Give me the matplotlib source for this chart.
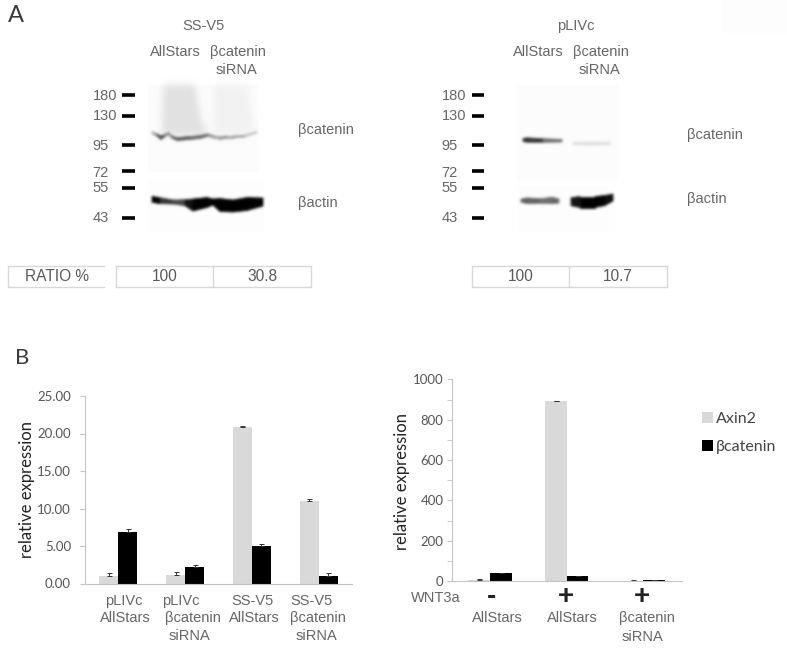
import numpy as np
import matplotlib
matplotlib.use('Agg')
import matplotlib.pyplot as plt
from matplotlib.collections import PolyCollection

W, H = 787, 651
arial = 'Liberation Sans'
calibri = 'Lato'
txt_gray = '#666666'
bar_gray = '#d9d9d9'
axis_gray = '#c4c4c4'
box_gray = '#d8d8d8'

# left chart
left_axin2 = [0.97, 1.07, 20.9, 10.95]
left_axin2_err = [0.4, 0.4, 0.1, 0.35]
left_bcat = [6.9, 2.25, 5.05, 0.97]
left_bcat_err = [0.35, 0.2, 0.2, 0.45]
left_ticks = [0, 5, 10, 15, 20, 25]
left_labels = [['pLIVc', 'AllStars'], ['pLIVc', 'βcatenin', 'siRNA'],
               ['SS-V5', 'AllStars'], ['SS-V5', 'βcatenin', 'siRNA']]
left_label_x = [[124, 125], [181, 192.5, 189], [252.5, 254.3], [311.7, 318, 316.3]]

# right chart
right_axin2 = [8, 891, 3]
right_axin2_err = [3, 1, 1]
right_bcat = [40, 26, 5]
right_bcat_err = [1, 1, 1]
right_ticks = [0, 200, 400, 600, 800, 1000]
right_wnt = ['-', '+', '+']
right_wnt_x = [491.7, 566, 642]
right_labels = [['AllStars'], ['AllStars'], ['βcatenin', 'siRNA']]
right_label_x = [[497.3], [572], [646.7, 642.3]]

# marker ladder
ladder = ['180', '130', '95', '72', '55', '43']
ladder_y = [94.5, 115.5, 144.5, 171, 188, 217.5]
ladder_text_y = [95.7, 116, 145.5, 173, 188, 218]

# blot bands: x, centre y, half thickness, darkness (image pixels)
blot1_cat = ([152, 157, 161, 165, 168, 172, 177, 190, 200, 208, 214, 220, 227, 233, 245, 257],
             [132.7, 135, 137.7, 135.5, 133.5, 137, 139, 138, 137, 135, 137, 138, 137, 137, 136, 132],
             [0.8, 1.2, 1.8, 1.2, 1, 1.2, 1.5, 1.5, 1.5, 1.2, 1.2, 1.5, 1.2, 1.2, 1, 0.7],
             [.35, .5, .85, .5, .45, .5, .7, .6, .6, .6, .25, .45, .35, .4, .3, .2])
blot1_act = ([152, 160, 173, 185, 193, 207, 213, 220, 233, 247, 263],
             [199.3, 200.7, 202, 202.7, 205, 202.5, 202, 205, 206, 204, 202],
             [3, 3, 2, 3, 6, 5, 3, 6.5, 6, 6.5, 4],
             [1, 1, .6, .85, 1, 1, 1, 1, 1, 1, 1])
blot2_cat_a = ([523, 527, 543, 562],
               [140, 140, 140.5, 140.7],
               [1.5, 2.2, 1.8, 1.3],
               [.7, .95, .65, .5])
blot2_cat_b = ([573, 590, 610],
               [143.5, 143.5, 143.5],
               [1.2, 1.6, 1.2],
               [.09, .15, .09])
blot2_act_a = ([521, 527, 540, 552, 559],
               [200.7, 200.7, 201, 200.5, 201],
               [1.5, 2.8, 2.2, 3.2, 2],
               [.45, .8, .45, .7, .5])
blot2_act_b = ([571, 580, 595, 605, 613],
               [201.7, 202, 202, 200.5, 197.5],
               [4, 5.5, 5.5, 5, 3.5],
               [.85, 1, 1, 1, .9])

# smears over the left blot, outline in image pixels
smear_a = ([163, 195, 200, 208, 162], [85, 85, 115, 135, 135])
smear_b = ([214, 248, 251, 256, 214], [85, 85, 110, 133, 135])

fig = plt.figure(figsize=(W / 100, H / 100), dpi=100)
bg = fig.add_axes([0, 0, 1, 1])
bg.set_xlim(0, W)
bg.set_ylim(H, 0)
bg.axis('off')


def px_axes(x0, y0, x1, y1):
    return fig.add_axes([x0 / W, 1 - y1 / H, (x1 - x0) / W, (y1 - y0) / H])


def label(x, y, s, size=10.5, color=txt_gray, family=arial, **kw):
    kw.setdefault('ha', 'center')
    kw.setdefault('va', 'center')
    bg.text(x, y, s, fontsize=size, color=color, family=family, **kw)


def make_blur(sigma):
    pad = int(sigma * 4) + 1
    kernel = np.exp(-0.5 * (np.arange(-pad, pad + 1) / sigma) ** 2)
    kernel = kernel / kernel.sum()

    def smooth(a):
        a = np.apply_along_axis(np.convolve, 0, a, kernel, mode='same')
        return np.apply_along_axis(np.convolve, 1, a, kernel, mode='same')

    def blur(im, dpi):
        im = np.pad(im, [(pad, pad), (pad, pad), (0, 0)], 'constant')
        alpha = im[:, :, 3]
        out = np.zeros_like(im)
        blurred = smooth(alpha)
        for c in range(3):
            out[:, :, c] = smooth(im[:, :, c] * alpha) / np.maximum(blurred, 1e-4)
        out[:, :, 3] = blurred
        return np.clip(out, 0, 1), -pad, -pad
    return blur


def draw_bands(bands, sigma=0.9):
    verts, colors = [], []
    for xs, ys, half, dark in bands:
        for i in range(len(xs) - 1):
            verts.append([(xs[i], ys[i] - half[i]), (xs[i + 1], ys[i + 1] - half[i + 1]),
                          (xs[i + 1], ys[i + 1] + half[i + 1]), (xs[i], ys[i] + half[i])])
            colors.append(str(round(1 - (dark[i] + dark[i + 1]) / 2, 3)))
    pc = PolyCollection(verts, facecolors=colors, edgecolors=colors, linewidths=0.5)
    pc.set_agg_filter(make_blur(sigma))
    bg.add_collection(pc)


def draw_smear(outline, color):
    pc = PolyCollection([list(zip(*outline))], facecolors=color, edgecolors='none')
    pc.set_agg_filter(make_blur(2.5))
    bg.add_collection(pc)


def panel(x0, x1, y0, y1, color):
    bg.fill([x0, x1, x1, x0], [y0, y0, y1, y1], color=color, lw=0)


def ratio_box(x0, x1, mid=None, open_right=False):
    y0, y1 = 265.5, 286.5
    bg.plot([x0, x1], [y0, y0], color=box_gray, lw=1)
    bg.plot([x0, x1], [y1, y1], color=box_gray, lw=1)
    bg.plot([x0, x0], [y0, y1], color=box_gray, lw=1)
    if not open_right:
        bg.plot([x1, x1], [y0, y1], color=box_gray, lw=1)
    if mid:
        bg.plot([mid, mid], [y0, y1], color=box_gray, lw=1)


def bar_panel(ax, axin2, axin2_err, bcat, bcat_err, width, top, pad, size):
    x = np.arange(len(axin2))
    ax.bar(x - width / 2, axin2, width, color=bar_gray, label='Axin2')
    ax.bar(x + width / 2, bcat, width, color='black', label='βcatenin')
    ax.errorbar(x - width / 2, axin2, yerr=[[0] * len(x), axin2_err], fmt='none',
                ecolor='#333333', elinewidth=0.7, capsize=1.8, capthick=0.7)
    ax.errorbar(x + width / 2, bcat, yerr=[[0] * len(x), bcat_err], fmt='none',
                ecolor='#333333', elinewidth=0.7, capsize=1.8, capthick=0.7)
    ax.set_xlim(-0.5, len(x) - 0.5)
    ax.set_ylim(0, top)
    ax.set_xticks([])
    for s in ('top', 'right'):
        ax.spines[s].set_visible(False)
    for s in ('left', 'bottom'):
        ax.spines[s].set_color(axis_gray)
    ax.patch.set_alpha(0)
    ax.tick_params(axis='y', which='both', color=axis_gray, direction='out', length=3.6,
                   pad=pad, labelsize=size, labelcolor='#555555')


label(16, 15.5, 'A', size=17, color='#3a3a3a', family=calibri)
label(22, 357.5, 'B', size=16, color='#3a3a3a', family=calibri)

# faint blot backgrounds
panel(148, 258, 85, 172, '#fcfcfc')
panel(148, 265, 180, 232, '#fdfdfd')
panel(517, 618, 85, 182, '#fcfcfc')
panel(517, 613, 186, 232, '#fdfdfd')
panel(722, 787, 0, 33, '#fdfdfd')

# panel A, left blot
label(203, 26, 'SS-V5')
label(175, 52, 'AllStars')
label(238, 52, 'βcatenin')
label(236, 70.5, 'siRNA')
draw_smear(smear_a, '#e2e2e2')
draw_smear(smear_b, '#f3f3f3')
draw_bands([blot1_cat, blot1_act])
label(325.5, 130, 'βcatenin')
label(317.5, 203, 'βactin')

# panel A, right blot
label(576, 26, 'pLIVc')
label(538, 52, 'AllStars')
label(601, 52, 'βcatenin')
label(599, 70.5, 'siRNA')
draw_bands([blot2_cat_a, blot2_cat_b, blot2_act_a, blot2_act_b])
label(714.5, 135, 'βcatenin')
label(706.5, 199, 'βactin')

# ladders
for name, y, ty in zip(ladder, ladder_y, ladder_text_y):
    wide = len(name) == 3
    label(117 if wide else 108.5, ty, name, ha='right')
    label(466 if wide else 458, ty, name, ha='right')
    bg.plot([122, 135], [y, y], color='black', lw=2.6, solid_capstyle='butt')
    bg.plot([471.7, 484.3], [y, y], color='black', lw=2.6, solid_capstyle='butt')

# ratio boxes
ratio_box(8.3, 104, open_right=True)
ratio_box(115.5, 310.7, mid=212.7)
ratio_box(471.7, 666.7, mid=569.3)
label(57, 276.5, 'RATIO %', size=11.2, color='#5a5a5a')
label(165, 276.5, '100', size=11.2, color='#5a5a5a')
label(262, 276.5, '30.8', size=11.2, color='#5a5a5a')
label(520.5, 276.5, '100', size=11.2, color='#5a5a5a')
label(618, 276.5, '10.7', size=11.2, color='#5a5a5a')

# panel B left
ax1 = px_axes(85, 396, 352, 583.5)
bar_panel(ax1, left_axin2, left_axin2_err, left_bcat, left_bcat_err, 0.285, 25, 6.5, 9.5)
ax1.set_yticks(left_ticks)
ax1.set_yticklabels(['%.2f' % v for v in left_ticks], family=calibri)
label(27, 489, 'relative expression', size=12, color='#222222', family=calibri, rotation=90)
for xs, lines in zip(left_label_x, left_labels):
    for lx, y, p in zip(xs, [601, 618, 636], lines):
        label(lx, y, p)

# panel B right
ax2 = px_axes(451.7, 379.3, 681.7, 581.3)
bar_panel(ax2, right_axin2, right_axin2_err, right_bcat, right_bcat_err, 0.283, 1000, 2.4, 9.5)
ax2.set_yticks(right_ticks)
ax2.set_yticks(np.arange(100, 1000, 200), minor=True)
ax2.set_yticklabels([str(v) for v in right_ticks], family=calibri)
label(402, 482, 'relative expression', size=12, color='#222222', family=calibri, rotation=90)
label(436, 598, 'WNT3a')
for lx, sign in zip(right_wnt_x, right_wnt):
    label(lx, 597, sign, size=20, color='#222222', fontweight='bold')
for xs, lines in zip(right_label_x, right_labels):
    for lx, y, p in zip(xs, [618, 636.7], lines):
        label(lx, y, p)

# legend
h, lab = ax2.get_legend_handles_labels()
fig.legend(h, lab, loc='upper left', bbox_to_anchor=(701.7 / W, 1 - 412 / H), frameon=False,
           prop={'family': calibri, 'size': 11.5}, labelcolor='#444444', handlelength=0.72,
           handleheight=0.72, handletextpad=0.18, labelspacing=0.85, borderpad=0, borderaxespad=0)

fig.savefig('out.png', dpi=100)
